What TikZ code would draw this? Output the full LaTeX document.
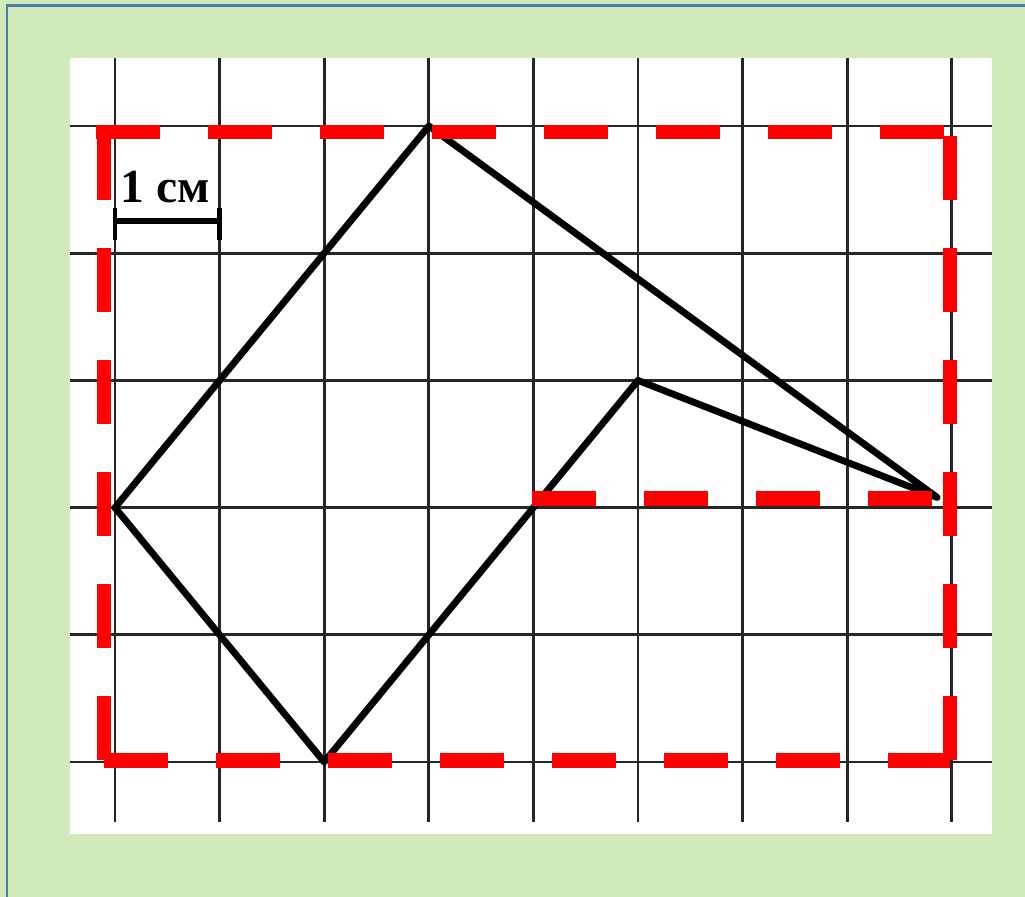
\documentclass[tikz,border=0pt]{standalone}
\usepackage{fontspec}
\setmainfont{Liberation Serif}
\usetikzlibrary{calc}
\definecolor{pgreen}{RGB}{209,234,185}
\definecolor{pframe}{RGB}{79,121,166}
\definecolor{pred}{RGB}{255,0,0}

\begin{document}
\begin{tikzpicture}[
  x=2.092cm,y=2.544cm,
  gridline/.style={line width=1.7pt,color=black!85},
  edge/.style={line width=3.9pt,line join=round,color=black},
  reddash/.style={draw=pred,line width=8.5pt,dash pattern=on 1.28cm off 0.96cm},
  unit/.style={font=\fontsize{27}{30}\selectfont\bfseries,inner sep=0pt,anchor=base west},
  tick/.style={line width=2.8pt}
]
  % Background and frame
  \useasboundingbox[fill=pgreen] (-1.0994,-1.0613) rectangle (8.700,5.9906);
  \draw[pframe,line width=1.7pt] (-1.0325,5.951) rectangle (9,-1.3);
  \fill[white] (-0.4302,-0.566) rectangle (8.384,5.535);

  % Grid
  \foreach \i in {0,...,8}
    \draw[gridline] (\i,-0.472) -- (\i,5.535);
  \foreach \j in {0,...,5}
    \draw[gridline] (-0.4302,\j) -- (8.384,\j);

  % Scale bar
  \node[unit] (cm) at (0.05,4.40) {1 см};
  \coordinate (s1) at (0,4.253);
  \coordinate (s2) at (1,4.253);
  \draw[line width=3.6pt] (s1) -- (s2);
  \draw[tick] ($(s1)+(0,-0.15)$) -- ($(s1)+(0,0.10)$);
  \draw[tick] ($(s2)+(0,-0.15)$) -- ($(s2)+(0,0.10)$);

  % Figure
  \coordinate (T) at (3,5);
  \coordinate (L) at (0,2);
  \coordinate (B) at (2,0);
  \coordinate (M) at (5,3);
  \coordinate (R) at (7.86,2.08);
  \draw[edge] (T) -- (L) -- (B) -- (M) -- (R) -- cycle;

  % Red dashed frame
  \coordinate (bl) at (-0.105,0.012);
  \coordinate (br) at (7.983,0.012);
  \coordinate (tl) at (-0.105,4.953);
  \coordinate (tr) at (7.983,4.953);
  \draw[reddash] (bl) -- (tl);
  \draw[reddash] (bl) -- (br);
  \draw[reddash] (br) -- (tr);
  \draw[reddash] ($(tl)+(-0.077,0)$) -- ($(tr)+(0.077,0)$);
  \coordinate (c1) at (3.987,2.075);
  \coordinate (c2) at (7.983,2.075);
  \draw[reddash] (c1) -- (c2);
\end{tikzpicture}
\end{document}
